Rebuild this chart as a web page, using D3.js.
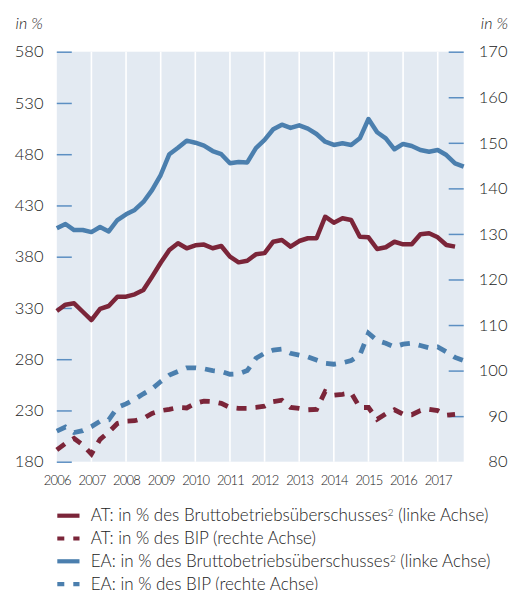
<!DOCTYPE html>
<html><head><meta charset="utf-8">
<script src="https://cdn.jsdelivr.net/npm/d3@7"></script>
<style>
html,body{margin:0;padding:0;background:#fff;}
svg text{font-family:Lato,"Open Sans",sans-serif;fill:#222;font-weight:300;}
</style></head>
<body><svg id="c" width="517" height="590"></svg>
<script>
// ---- data ----
const startYear = 2006;            // first quarter: 2006 Q1
const yearTicks = [2006,2007,2008,2009,2010,2011,2012,2013,2014,2015,2016,2017];
const leftTicks = [180,230,280,330,380,430,480,530,580];
const rightTicks = [80,90,100,110,120,130,140,150,160,170];

const atBos = [327,333.2,334.5,326.3,318.2,329,331.9,341,341,343.3,347.5,360.5,374.1,386.5,393.1,388.2,391.1,391.8,388.2,390.4,380,374.5,376.1,382.3,383.5,394.6,396.3,389.8,395.3,398,398,419,413.2,417.5,415.8,399.5,398.9,387.5,389.2,394.6,392.1,392.1,401.9,402.8,398.9,391.4,389.8];
const atBip = [82.6,84,85.1,83.7,81.7,84.9,86.5,88.4,88.9,89,89.5,90.6,91.2,91.5,91.9,91.8,92.8,93.3,93.2,92.8,91.9,91.7,91.7,91.9,92.2,93.2,93.5,91.9,91.7,91.4,91.5,95.4,94.6,94.8,95.1,91.9,91.9,89.3,90.5,91.4,90.4,90.3,91.2,91.5,91.2,90.2,90.4];
const eaBos = [407.7,411.9,406,406,404,409,404.7,415.8,421.4,425.6,433.4,445,459.7,480,486.3,493.2,491.2,488.3,483.1,480,471.1,472.4,472,486,494,504.3,508.8,505.6,508.2,504.9,499.7,492.2,489,490.6,489,495.5,514.3,501.4,495.5,484.8,490,488,484.1,482.4,484.1,479.2,471.1,467.8];
const eaBip = [86.7,87.6,86.4,86.8,87.7,88.9,89.2,91.9,92.7,93.7,94.9,96,97.6,99,99.8,100.6,100.6,100.4,100,99.8,99.2,99.3,100,102.7,103.8,104.5,104.7,103.8,103.4,103,102.3,101.6,101.4,101.7,102.2,103.4,108.2,106.6,106,105.2,105.8,106,105.5,105,105.2,104.1,102.9,102.2];

const legendLabels = [
  ["AT: in % des Bruttobetriebsüberschusses","2"," (linke Achse)"],
  ["AT: in % des BIP (rechte Achse)","",""],
  ["EA: in % des Bruttobetriebsüberschusses","2"," (linke Achse)"],
  ["EA: in % des BIP (rechte Achse)","",""]
];

// ---- styles ----
const RED = "#7b2539", BLUE = "#4b7fae", BG = "#e3eaf2", TICK = "#5c8fc2";
const L = 56.8, R = 463.7, T = 51.7, B = 461.7;

const svg = d3.select("#c");
const x = d3.scaleLinear().domain([2006, 2017.75]).range([L, R]);
const yL = d3.scaleLinear().domain([180, 580]).range([B, T]);
const yR = d3.scaleLinear().domain([80, 170]).range([B, T]);

svg.append("rect").attr("x", L).attr("y", T).attr("width", R - L).attr("height", B - T).attr("fill", BG);

// vertical white gridlines
svg.append("g").selectAll("line").data(yearTicks.filter(d => d > 2006)).join("line")
  .attr("x1", d => x(d)).attr("x2", d => x(d)).attr("y1", T).attr("y2", B)
  .attr("stroke", "#fff").attr("stroke-width", 1.6);

// left axis
const gl = svg.append("g").attr("transform", `translate(${L},0)`)
  .call(d3.axisRight(yL).tickValues(leftTicks).tickSize(15).tickFormat(""));
gl.select(".domain").remove();
gl.selectAll(".tick line").attr("stroke", TICK).attr("stroke-width", 1.5);
svg.append("g").selectAll("text").data(leftTicks).join("text")
  .attr("x", 43.5).attr("y", d => yL(d)).attr("dy", "0.35em").attr("text-anchor", "end")
  .style("font-size", "16.5px").text(d => d);

// right axis
const gr = svg.append("g").attr("transform", `translate(${R},0)`)
  .call(d3.axisLeft(yR).tickValues(rightTicks.filter(d => d > 80)).tickSize(15).tickFormat(""));
gr.select(".domain").remove();
gr.selectAll(".tick line").attr("stroke", TICK).attr("stroke-width", 1.5);
svg.append("g").selectAll("text").data(rightTicks).join("text")
  .attr("x", 507.5).attr("y", d => yR(d)).attr("dy", "0.35em").attr("text-anchor", "end")
  .style("font-size", "16.5px").text(d => d);

// x axis labels
const gx = svg.append("g").attr("transform", `translate(0,${B})`)
  .call(d3.axisBottom(x).tickValues(yearTicks).tickSize(0).tickPadding(14).tickFormat(d3.format("d")));
gx.select(".domain").remove();
gx.selectAll("text").style("font-family", "Lato,sans-serif").style("font-weight", "300").style("font-size", "13px")
  .style("letter-spacing", "-0.8px").attr("fill", "#222");

// unit labels
svg.append("text").attr("x", 15.5).attr("y", 29).style("font-style", "italic").style("font-size", "16px").text("in %");
svg.append("text").attr("x", 508).attr("y", 29).attr("text-anchor", "end").style("font-style", "italic").style("font-size", "16px").text("in %");

// lines
const qx = (d, i) => x(startYear + i * 0.25);
const lineL = d3.line().x(qx).y(d => yL(d));
const lineR = d3.line().x(qx).y(d => yR(d));
const plot = svg.append("g");
plot.append("path").datum(eaBip).attr("d", lineR).attr("fill", "none").attr("stroke", BLUE)
  .attr("stroke-width", 4.8).attr("stroke-dasharray", "10,9");
plot.append("path").datum(atBip).attr("d", lineR).attr("fill", "none").attr("stroke", RED)
  .attr("stroke-width", 4.8).attr("stroke-dasharray", "10,9");
plot.append("path").datum(eaBos).attr("d", lineL).attr("fill", "none").attr("stroke", BLUE)
  .attr("stroke-width", 4.5).attr("stroke-linejoin", "round");
plot.append("path").datum(atBos).attr("d", lineL).attr("fill", "none").attr("stroke", RED)
  .attr("stroke-width", 4.5).attr("stroke-linejoin", "round");

// legend
const legColors = [RED, RED, BLUE, BLUE];
const legDash = [null, "7,9", null, "7,9"];
const lg = svg.append("g");
const texts = [];
legendLabels.forEach((lab, i) => {
  const yy = 515.7 + i * 22.8;
  lg.append("line").attr("x1", 57.3).attr("x2", 79.5).attr("y1", yy).attr("y2", yy)
    .attr("stroke", legColors[i]).attr("stroke-width", 4.2).attr("stroke-dasharray", legDash[i]);
  const t = lg.append("text").attr("x", 90.7).attr("y", yy).attr("dy", "0.33em").style("font-size", "16px");
  t.append("tspan").text(lab[0]);
  if (lab[1]) {
    t.append("tspan").attr("dy", "-5px").style("font-size", "10px").text(lab[1]);
    t.append("tspan").attr("dy", "5px").text(lab[2]);
  }
  texts.push(t);
});
// fit legend font so the first row spans the reference width
const w0 = texts[0].node().getComputedTextLength();
const fs = 16 * 398 / w0;
texts.forEach(t => t.style("font-size", fs + "px"));
</script></body></html>
